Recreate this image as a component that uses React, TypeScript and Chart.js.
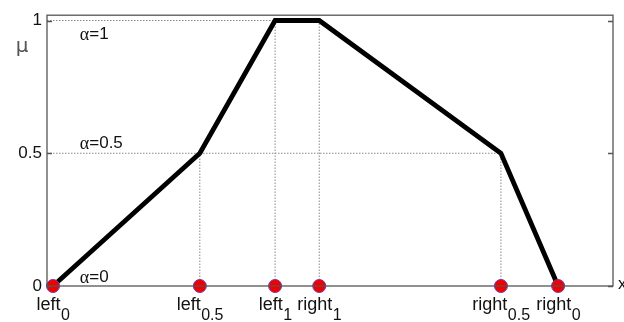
import React, { useEffect, useRef } from "react";
import { Chart, registerables } from "chart.js";

Chart.register(...registerables);

// Break points of the trapezoidal-like membership function
const pointNames = ["left", "left", "left", "right", "right", "right"];
const pointSubs = ["0", "0.5", "1", "1", "0.5", "0"];
const pointX = [1.06, 27.0, 40.3, 48.1, 80.2, 90.3];
const pointMu = [0, 0.5, 1, 1, 0.5, 0];

const yTicks = [0, 0.5, 1];
const alphaLabels = ["α=0", "α=0.5", "α=1"];
const alphaLabelY = [0.034, 0.536, 0.948];
const alphaLabelX = 5.8;

// dotted guide lines: horizontal levels and vertical drops
const hLevels = [1, 0.5];
const hEnds = [48.1, 80.2];
const vXs = [27.0, 40.3, 48.1, 80.2];
const vTops = [0.5, 1, 1, 0.5];

const X_MIN = 0;
const X_MAX = 100;
const Y_MAX = 1.02;

export default function App() {
  const ref = useRef<HTMLCanvasElement | null>(null);

  useEffect(() => {
    document.body.style.margin = "0";
    const canvas = ref.current!;
    const guideStyle = {
      borderColor: "#8a8a8a",
      borderWidth: 1,
      borderDash: [1.5, 1.5],
      pointRadius: 0,
      showLine: true,
      fill: false,
      order: 5,
    };
    const guides: any[] = [];
    hLevels.forEach((lv, i) => {
      guides.push({
        ...guideStyle,
        data: [
          { x: X_MIN, y: lv },
          { x: hEnds[i], y: lv },
        ],
      });
    });
    vXs.forEach((vx, i) => {
      guides.push({
        ...guideStyle,
        data: [
          { x: vx, y: 0 },
          { x: vx, y: vTops[i] },
        ],
      });
    });

    const overlay = {
      id: "overlay",
      afterDatasetsDraw(chart: any) {
        const ctx = chart.ctx as CanvasRenderingContext2D;
        const ys = chart.scales.y;
        const area = chart.chartArea;
        ctx.save();
        ctx.strokeStyle = "#555";
        ctx.lineWidth = 1.3;
        ctx.strokeRect(area.left, area.top, area.right - area.left, area.bottom - area.top);
        yTicks.forEach((t) => {
          const py = Math.round(ys.getPixelForValue(t)) + 0.5;
          ctx.beginPath();
          ctx.moveTo(area.right, py);
          ctx.lineTo(area.right - 5, py);
          ctx.moveTo(area.left, py);
          ctx.lineTo(area.left + 5, py);
          ctx.stroke();
        });
        ctx.restore();
      },
      afterDraw(chart: any) {
        const ctx = chart.ctx as CanvasRenderingContext2D;
        const xs = chart.scales.x;
        const ys = chart.scales.y;
        const area = chart.chartArea;
        ctx.save();
        ctx.fillStyle = "#111";
        ctx.textBaseline = "alphabetic";
        const mainFont = "18px 'Liberation Sans', Arial, sans-serif";
        const subFont = "16px 'Liberation Sans', Arial, sans-serif";
        const y0 = ys.getPixelForValue(0);
        pointNames.forEach((name, i) => {
          ctx.font = mainFont;
          const w1 = ctx.measureText(name).width;
          ctx.font = subFont;
          const w2 = ctx.measureText(pointSubs[i]).width;
          const cx = xs.getPixelForValue(pointX[i]);
          const start = cx - (w1 + w2) / 2;
          ctx.font = mainFont;
          ctx.textAlign = "left";
          ctx.fillText(name, start, y0 + 24);
          ctx.font = subFont;
          ctx.fillText(pointSubs[i], start + w1 + 0.5, y0 + 34);
        });
        alphaLabels.forEach((lab, i) => {
          const px = xs.getPixelForValue(alphaLabelX);
          const py = ys.getPixelForValue(alphaLabelY[i]);
          ctx.textBaseline = "middle";
          ctx.textAlign = "left";
          ctx.font = "18px 'Liberation Serif', 'Times New Roman', serif";
          const a = lab.charAt(0);
          const rest = lab.slice(1);
          ctx.fillText(a, px, py + 1);
          const wa = ctx.measureText(a).width;
          ctx.font = "17px 'Liberation Sans', Arial, sans-serif";
          ctx.fillText(rest, px + wa, py);
        });
        ctx.textBaseline = "middle";
        ctx.textAlign = "center";
        ctx.fillStyle = "#555";
        ctx.font = "20px 'DejaVu Sans', sans-serif";
        ctx.fillText("μ", area.left - 25, ys.getPixelForValue(0.9));
        ctx.fillStyle = "#111";
        ctx.font = "17px 'Liberation Sans', Arial, sans-serif";
        ctx.textAlign = "left";
        ctx.fillText("x", area.right + 5, y0 - 2);
        ctx.restore();
      },
    };

    const chart = new Chart(canvas, {
      type: "scatter",
      data: {
        datasets: [
          {
            data: pointX.map((x) => ({ x, y: 0 })),
            pointRadius: 6.5,
            pointBackgroundColor: "#f20000",
            pointBorderColor: "#6a3cb0",
            pointBorderWidth: 1,
            showLine: false,
            clip: false as any,
            order: 1,
          },
          {
            data: pointX.map((x, i) => ({ x, y: pointMu[i] })),
            borderColor: "#000",
            borderWidth: 4.8,
            pointRadius: 0,
            showLine: true,
            borderJoinStyle: "miter",
            fill: false,
            clip: false as any,
            order: 2,
          },
          ...guides,
        ],
      },
      options: {
        responsive: false,
        animation: false,
        events: [],
        layout: { padding: { left: 0, right: 11, top: 14, bottom: 0 } },
        plugins: {
          legend: { display: false },
          tooltip: { enabled: false },
        },
        scales: {
          x: {
            type: "linear",
            min: X_MIN,
            max: X_MAX,
            grid: { display: false, drawTicks: false },
            border: { display: false },
            ticks: { display: false },
            afterFit: (s: any) => {
              s.height = 36;
            },
          },
          y: {
            type: "linear",
            min: 0,
            max: Y_MAX,
            grid: { display: false, drawTicks: false },
            border: { display: false },
            afterBuildTicks: (s: any) => {
              s.ticks = yTicks.map((v) => ({ value: v }));
            },
            ticks: {
              color: "#111",
              padding: 5,
              font: { family: "'Liberation Sans', Arial, sans-serif", size: 17 },
              callback: (v: any) => String(v),
            },
            afterFit: (s: any) => {
              s.width = 47;
            },
          },
        },
      },
      plugins: [overlay],
    });
    return () => chart.destroy();
  }, []);

  return (
    <div style={{ width: 624, height: 322, background: "#fff" }}>
      <canvas ref={ref} width={624} height={322} style={{ display: "block" }} />
    </div>
  );
}
